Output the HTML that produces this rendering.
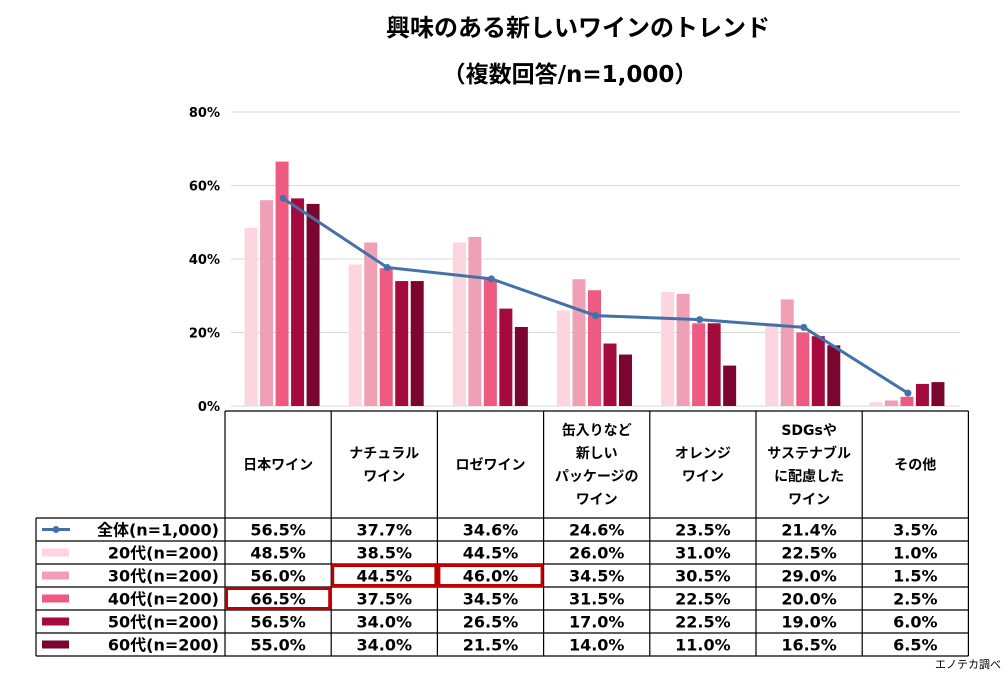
<!DOCTYPE html>
<html><head><meta charset="utf-8"><style>
body{margin:0;background:#fff;}
svg text{font-family:"DejaVu Sans","Noto Sans CJK JP",sans-serif;}
</style></head><body>
<svg id="c" width="1007" height="683" xmlns="http://www.w3.org/2000/svg">
<text x="578" y="36" text-anchor="middle" font-size="24" font-weight="bold">興味のある新しいワインのトレンド</text>
<text x="570" y="82" text-anchor="middle" font-size="23" font-weight="bold">（複数回答/n=1,000）</text>
<text x="935" y="668" font-size="11">エノテカ調べ</text>
</svg>
<script>
const categories=[["日本ワイン"],["ナチュラル","ワイン"],["ロゼワイン"],["缶入りなど","新しい","パッケージの","ワイン"],["オレンジ","ワイン"],["SDGsや","サステナブル","に配慮した","ワイン"],["その他"]];
const seriesNames=["全体(n=1,000)","20代(n=200)","30代(n=200)","40代(n=200)","50代(n=200)","60代(n=200)"];
const totalValues=[56.5,37.7,34.6,24.6,23.5,21.4,3.5];
const age20=[48.5,38.5,44.5,26.0,31.0,22.5,1.0];
const age30=[56.0,44.5,46.0,34.5,30.5,29.0,1.5];
const age40=[66.5,37.5,34.5,31.5,22.5,20.0,2.5];
const age50=[56.5,34.0,26.5,17.0,22.5,19.0,6.0];
const age60=[55.0,34.0,21.5,14.0,11.0,16.5,6.5];
const yTicks=[0,20,40,60,80];
const highlights=[[3,0],[2,1],[2,2]];
const colors=["#4472a8","#fcd5df","#f0a0b4","#ef5a80","#a50a3e","#7a0630"];
const svg=document.getElementById('c');const NS="http://www.w3.org/2000/svg";
function mk(t,a,p){const e=document.createElementNS(NS,t);for(const k in a)e.setAttribute(k,a[k]);(p||svg).appendChild(e);return e;}
const x0=231,x1=960,y0=406,y80=112;
const slot=(x1-x0)/categories.length;
function ys(v){return y0-(v/80)*(y0-y80);}
function xc(i){return x0+slot*(i+0.5);}
yTicks.forEach(t=>{
const g=mk('line',{x1:x0,x2:x1,y1:ys(t),y2:ys(t),stroke:'#d9d9d9','stroke-width':1});


const l=mk('text',{x:220,y:ys(t)+5,'text-anchor':'end','font-size':13,'font-weight':'bold'});l.textContent=t+'%';


});
const series=[age20,age30,age40,age50,age60];
const bw=13,step=15.5;
series.forEach((s,si)=>{s.forEach((v,i)=>{
const r=mk('rect',{x:xc(i)-bw/2+(si-2)*step-1,y:ys(v),width:bw,height:y0-ys(v),fill:colors[si+1]});


});});
const pts=totalValues.map((v,i)=>xc(i)+','+ys(v)).join(' ');
const pl=mk('polyline',{points:pts,fill:'none',stroke:colors[0],'stroke-width':3});


totalValues.forEach((v,i)=>{const c=mk('circle',{cx:xc(i),cy:ys(v),r:3.5,fill:colors[0]});

});
const tx0=225,cw=106.2,hy0=411,hy1=518,rh=23;
const tl=mk('g',{stroke:'#000','stroke-width':1.2,fill:'none'});


for(let i=0;i<=7;i++)mk('line',{x1:tx0+i*cw,x2:tx0+i*cw,y1:hy0,y2:hy1+6*rh},tl);
mk('line',{x1:tx0,x2:tx0+7*cw,y1:hy0,y2:hy0},tl);
for(let r=0;r<=6;r++)mk('line',{x1:36,x2:tx0+7*cw,y1:hy1+r*rh,y2:hy1+r*rh},tl);
mk('line',{x1:36,x2:36,y1:hy1,y2:hy1+6*rh},tl);
categories.forEach((lines,i)=>{const cy=(hy0+hy1)/2,lh=23;const st=cy-(lines.length-1)*lh/2;
lines.forEach((ln,k)=>{const t=mk('text',{x:tx0+cw*(i+0.5),y:st+k*lh+5,'text-anchor':'middle','font-size':14,'font-weight':'bold'});t.textContent=ln;

});});
const all=[totalValues].concat(series);
all.forEach((s,r)=>{const y=hy1+r*rh+rh/2+6;
if(r==0){mk('line',{x1:42,x2:70,y1:y-6,y2:y-6,stroke:colors[0],'stroke-width':3});mk('circle',{cx:56,cy:y-6,r:3.5,fill:colors[0]});}
else{const lg=mk('rect',{x:42,y:y-10,width:27,height:8,fill:colors[r]});}
const n=mk('text',{x:219,y:y,'text-anchor':'end','font-size':16,'font-weight':'bold'});n.textContent=seriesNames[r];


s.forEach((v,i)=>{const t=mk('text',{x:tx0+cw*(i+0.5),y:y,'text-anchor':'middle','font-size':16,'font-weight':'bold'});t.textContent=v.toFixed(1)+'%';

});
});
highlights.forEach(([r,c])=>{const h=mk('rect',{x:tx0+c*cw+1.5,y:hy1+r*rh+1.5,width:cw-3,height:rh-3,fill:'none',stroke:'#c00000','stroke-width':3});

});
</script>
</body></html>
